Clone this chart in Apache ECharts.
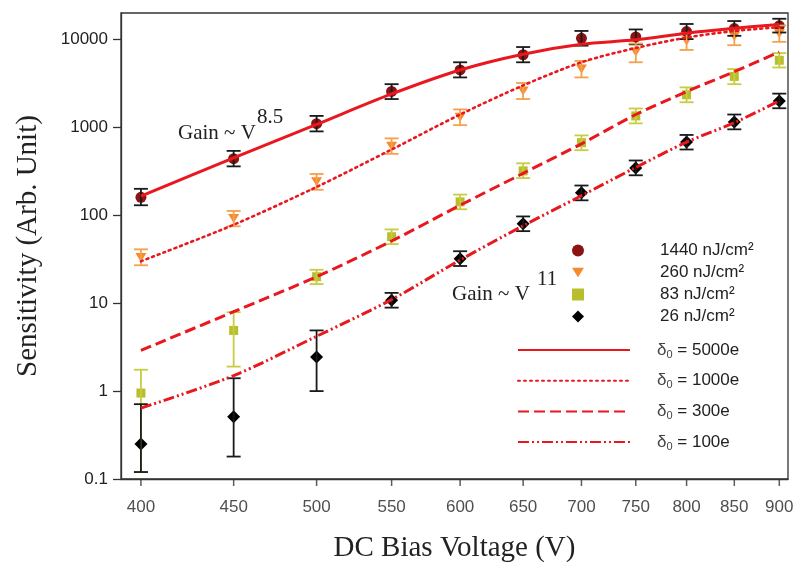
<!DOCTYPE html>
<html><head><meta charset="utf-8">
<script src="https://cdn.jsdelivr.net/npm/echarts@6/dist/echarts.min.js"></script>
<style>html,body{margin:0;padding:0;background:#fff}#c{width:795px;height:568px}</style>
</head><body><div id="c"></div>
<script>
// ---- data ----
const volts = [400, 450, 500, 550, 600, 650, 700, 750, 800, 850, 900];
const yTicks = [0.1, 1, 10, 100, 1000, 10000];

const names = ['1440 nJ/cm\u00B2', '260 nJ/cm\u00B2', '83 nJ/cm\u00B2', '26 nJ/cm\u00B2'];
const s1440 = [160, 440, 1100, 2560, 4500, 6700, 10300, 10700, 12300, 13300, 14300];
const lo1440 = [130, 360, 900, 2100, 3700, 5500, 8500, 8800, 10100, 11000, 12000];
const hi1440 = [200, 540, 1350, 3100, 5500, 8200, 12500, 13000, 15000, 16200, 17200];

const s260 = [33, 92, 240, 610, 1300, 2600, 4600, 7200, 9600, 10800, 11700];
const lo260 = [27, 75, 195, 500, 1060, 2100, 3700, 5500, 7600, 8600, 9400];
const hi260 = [41, 112, 295, 750, 1600, 3200, 5700, 9000, 11800, 13300, 14400];

const s83 = [0.95, 4.9, 20, 57, 142, 320, 670, 1350, 2350, 3800, 5800];
const lo83 = [0.12, 1.9, 16.5, 47, 117, 265, 550, 1110, 1930, 3100, 4800];
const hi83 = [1.75, 7.9, 24, 69, 172, 390, 810, 1640, 2850, 4600, 7000];

const s26 = [0.25, 0.51, 2.45, 10.8, 32, 80, 180, 345, 680, 1150, 2000];
const lo26 = [0.12, 0.18, 1.0, 8.9, 26.5, 66, 148, 285, 560, 950, 1650];
const hi26 = [0.71, 1.4, 4.9, 13.1, 39, 97, 218, 420, 820, 1400, 2420];

const fitNames = ['5000e', '1000e', '300e', '100e'];
const fit5000 = [165, 450, 1080, 2400, 4500, 6800, 8800, 9900, 11800, 13400, 14800];
const fit1000 = [30, 78, 210, 560, 1400, 3000, 5500, 8000, 10500, 12500, 13800];
const fit300 = [2.9, 8, 20, 51, 130, 300, 650, 1400, 2550, 4300, 7200];
const fit100 = [0.64, 1.5, 4.2, 11, 31, 76, 167, 350, 680, 1130, 2000];

// ---- styles ----
const RED = '#e8181e';
const SANS = "'Liberation Sans', Arial, sans-serif";
const SERIF = "'Liberation Serif', 'Times New Roman', serif";
const markerColors = ['#8c1313', '#f58b2e', '#b9bf2c', '#000000'];
const errColors = ['#1a1a1a', '#f5a04a', '#c8cc40', '#1a1a1a'];
const symbols = ['circle', 'path://M0,0L10,0L5,8Z', 'rect', 'diamond'];
const symSizes = [11, [11, 9], 9, 13];

const pts = [s1440, s260, s83, s26];
const los = [lo1440, lo260, lo83, lo26];
const his = [hi1440, hi260, hi83, hi26];
const fits = [fit5000, fit1000, fit300, fit100];
const dashes = ['solid', [2, 4], [11, 5], [11, 3, 2, 3, 2, 3]];
const fitWidths = [3, 2.6, 3, 3];

function errSeries(lo, hi, color) {
  return {
    type: 'custom', silent: true, z: 3,
    data: volts.map((v, i) => [v, lo[i], hi[i]]),
    encode: { x: 0, y: [1, 2] },
    renderItem(params, api) {
      const x = api.value(0);
      const a = api.coord([x, api.value(1)]);
      const b = api.coord([x, api.value(2)]);
      const w = 7;
      const st = { stroke: color, lineWidth: 1.8 };
      return { type: 'group', children: [
        { type: 'line', shape: { x1: a[0], y1: a[1], x2: b[0], y2: b[1] }, style: st },
        { type: 'line', shape: { x1: a[0] - w, y1: a[1], x2: a[0] + w, y2: a[1] }, style: st },
        { type: 'line', shape: { x1: b[0] - w, y1: b[1], x2: b[0] + w, y2: b[1] }, style: st }
      ]};
    }
  };
}

const series = [];
pts.forEach((arr, k) => {
  series.push({
    name: names[k], type: 'scatter', z: 2,
    symbol: symbols[k], symbolSize: symSizes[k],
    itemStyle: { color: markerColors[k], opacity: 1 },
    data: volts.map((v, i) => [v, arr[i]])
  });
  series.push(errSeries(los[k], his[k], errColors[k]));
});
fits.forEach((arr, k) => {
  series.push({
    name: fitNames[k], type: 'line', z: 4, symbol: 'none', showSymbol: false, smooth: 0.3,
    lineStyle: { color: RED, width: fitWidths[k], type: dashes[k], cap: k === 1 ? 'round' : 'butt' },
    itemStyle: { color: RED },
    data: volts.map((v, i) => [v, arr[i]])
  });
});
// x tick marks and labels drawn at the axis through the log scale
series.push({
  type: 'scatter', silent: true, clip: false, z: 5,
  symbol: 'rect', symbolSize: [1.5, 7], symbolOffset: [0, 3.5],
  itemStyle: { color: '#333' },
  label: { show: true, position: 'bottom', distance: 13, formatter: p => String(p.value[0]),
           fontFamily: SANS, fontSize: 17, color: '#222' },
  data: volts.map(v => [v, yTicks[0]])
});

const chart = echarts.init(document.getElementById('c'), null, { renderer: 'canvas' });
chart.setOption({
  animation: false,
  backgroundColor: '#fff',
  grid: { left: 121, right: 7, top: 13, bottom: 88, show: true, borderColor: '#333', borderWidth: 1.3 },
  xAxis: {
    type: 'log', logBase: 10, min: 390, max: 910,
    axisLine: { lineStyle: { color: '#333', width: 1.3 } },
    axisTick: { show: false }, axisLabel: { show: false }, splitLine: { show: false }, minorTick: { show: false },
    name: 'DC Bias Voltage (V)', nameLocation: 'middle', nameGap: 55,
    nameTextStyle: { fontFamily: SERIF, fontSize: 29, color: '#222' }
  },
  yAxis: {
    type: 'log', logBase: 10, min: 0.1, max: 20000,
    axisLine: { show: true, lineStyle: { color: '#333', width: 1.3 } },
    axisTick: { show: true, length: 8, lineStyle: { color: '#333', width: 1.3 } },
    axisLabel: { fontFamily: SANS, fontSize: 17, color: '#222', margin: 13, showMaxLabel: false,
                 formatter: v => String(Number(v.toPrecision(3))) },
    splitLine: { show: false },
    name: 'Sensitivity (Arb. Unit)', nameLocation: 'middle', nameGap: 78,
    nameTextStyle: { fontFamily: SERIF, fontSize: 29, color: '#222' }
  },
  legend: [
    {
      data: names, orient: 'vertical', left: 567, top: 237, selectedMode: false,
      itemWidth: 12, itemHeight: 12, itemGap: 5,
      formatter: n => '{g|}{t|' + n + '}',
      textStyle: { rich: { g: { width: 71 }, t: { fontFamily: SANS, fontSize: 17, color: '#222', lineHeight: 20 } } }
    },
    {
      data: fitNames, orient: 'vertical', left: 512, top: 335, selectedMode: false,
      itemWidth: 112, itemHeight: 14, itemGap: 10.7,
      itemStyle: { opacity: 0, borderWidth: 0 },
      formatter: n => '{g|}{d|\u03B4}{s|0}{t| = ' + n + '}',
      textStyle: { rich: {
        g: { width: 22 },
        d: { fontFamily: SANS, fontSize: 17, color: '#444', lineHeight: 20 },
        s: { fontFamily: SANS, fontSize: 11, color: '#444', lineHeight: 20, padding: [9, 0, 0, 0] },
        t: { fontFamily: SANS, fontSize: 17, color: '#222', lineHeight: 20 }
      } }
    }
  ],
  graphic: [
    { type: 'text', left: 178, top: 123, style: { text: 'Gain ~ V', font: "21px 'Liberation Serif'", fill: '#222' } },
    { type: 'text', left: 257, top: 107, style: { text: '8.5', font: "21px 'Liberation Serif'", fill: '#222' } },
    { type: 'text', left: 452, top: 284, style: { text: 'Gain ~ V', font: "21px 'Liberation Serif'", fill: '#222' } },
    { type: 'text', left: 537, top: 269, style: { text: '11', font: "21px 'Liberation Serif'", fill: '#222' } }
  ],
  series: series
});
</script></body></html>
